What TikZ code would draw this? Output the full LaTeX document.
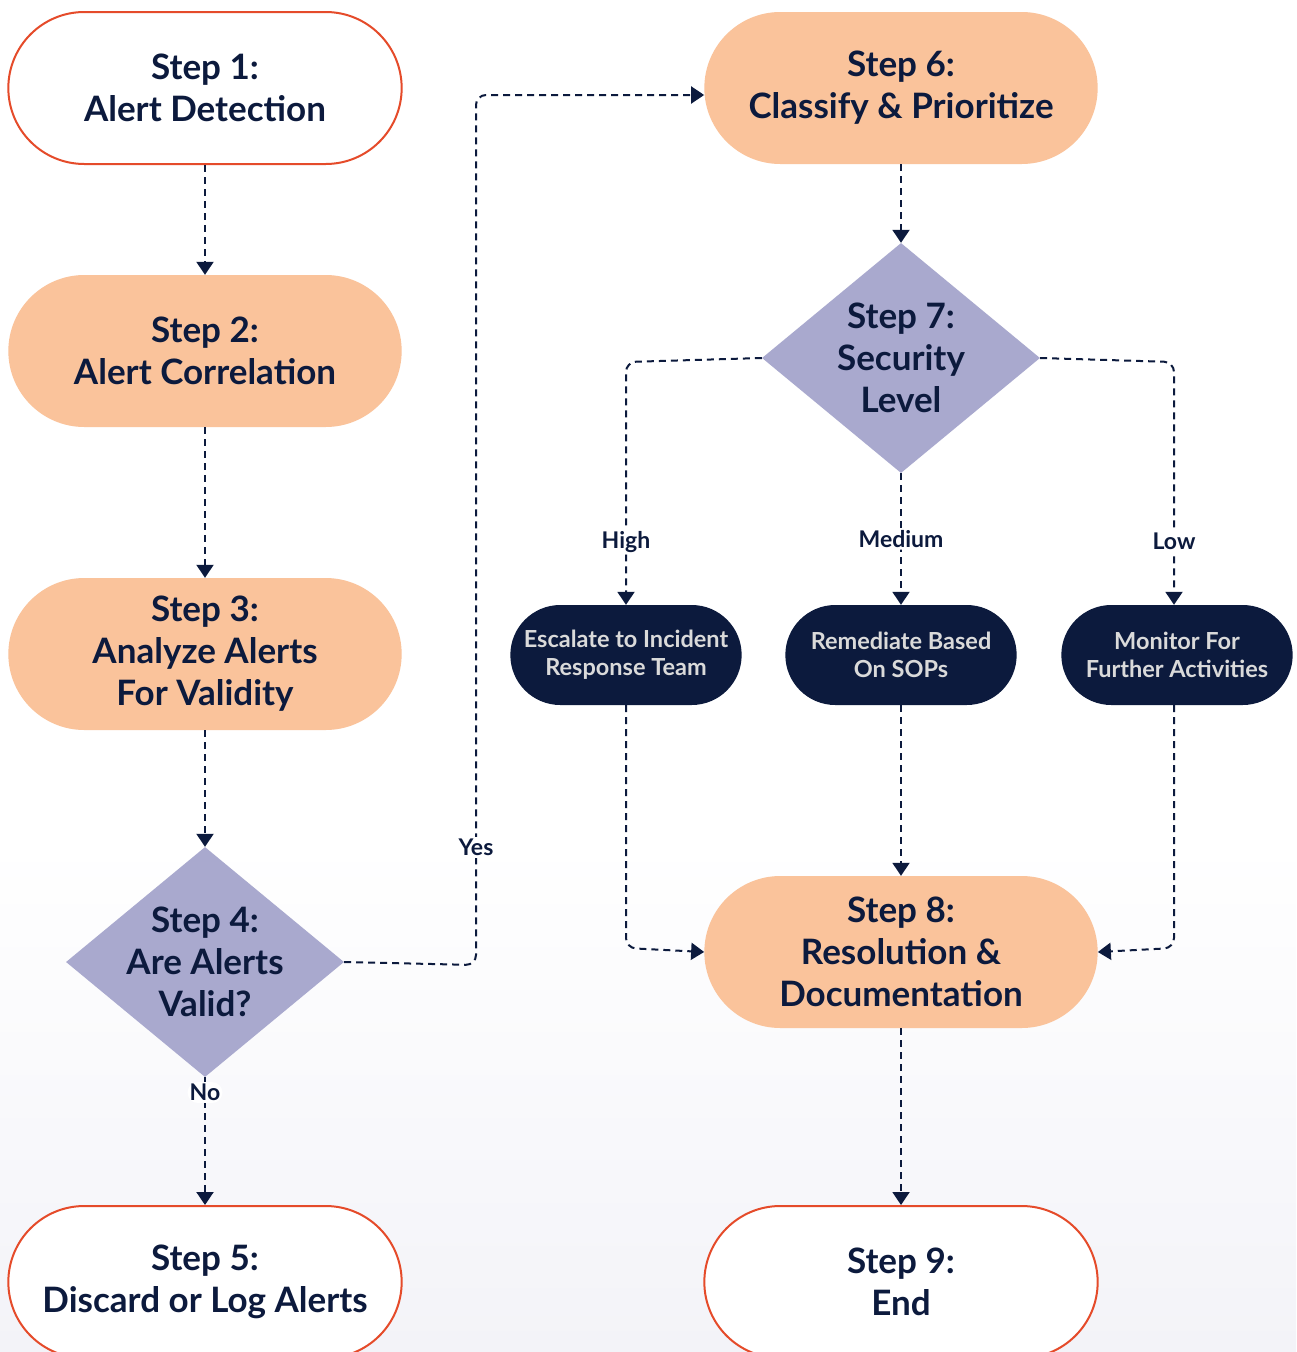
\documentclass[tikz,border=0pt]{standalone}
\usepackage{fontspec}
\setmainfont{Lato}
\usetikzlibrary{arrows.meta,shapes.geometric,shapes.misc,calc}
\definecolor{navy}{HTML}{0C1A3D}
\definecolor{peach}{HTML}{FAC39B}
\definecolor{redline}{HTML}{E54B2A}
\definecolor{lav}{HTML}{A9A9CE}
\definecolor{pilltext}{HTML}{DADADA}
\definecolor{haze}{HTML}{F3F3F8}
\tikzset{
  stadium/.style={rounded rectangle, minimum width=400pt, minimum height=152pt,
    align=center, font=\bfseries\fontsize{35}{42}\selectfont, text=navy},
  termbox/.style={stadium, draw=redline, line width=2pt, fill=white},
  procbox/.style={stadium, fill=peach},
  % the diamond keeps a fixed size; its text is set as a centred label
  decbox/.style={diamond, minimum width=278pt, minimum height=230pt,
    inner sep=0pt, fill=lav},
  dectext/.style={align=center, text=navy,
    font=\bfseries\fontsize{35}{42}\selectfont},
  actbox/.style={rounded rectangle, minimum width=238pt, minimum height=100pt,
    fill=navy, text=pilltext, align=center,
    font=\bfseries\fontsize{23.5}{28}\selectfont},
  flow/.style={draw=navy, line width=2pt, dash pattern=on 7pt off 5pt,
    -{Triangle[length=13pt,width=17pt]}, rounded corners=10pt},
  tag/.style={fill=white, text=navy, font=\bfseries\fontsize{23}{26}\selectfont,
    inner sep=2pt},
}
\begin{document}
\begin{tikzpicture}[x=1pt,y=-1pt]
\useasboundingbox (0,0) rectangle (1296,1352);
\clip (0,0) rectangle (1296,1352);
% soft backdrop towards the bottom
\fill[white] (0,0) rectangle (1296,840);
\shade[top color=white, bottom color=haze] (0,840) rectangle (1296,1352);

% left column
\node[termbox] (s1) at (205,88) {Step 1:\\Alert Detection};
\node[procbox] (s2) at (205,351) {Step 2:\\Alert Correlation};
\node[procbox] (s3) at (205,654) {Step 3:\\Analyze Alerts\\For Validity};
\node[decbox] (s4) at (205,962) {};
\node[dectext] (s4t) at (s4.center) {Step 4:\\Are Alerts\\Valid?};
\node[termbox] (s5) at (205,1282) {Step 5:\\Discard or Log Alerts};

% right column
\node[procbox] (s6) at (901,88) {Step 6:\\Classify \& Prioritize};
\node[decbox] (s7) at (901,358) {};
\node[dectext] (s7t) at (s7.center) {Step 7:\\Security\\Level};
\node[actbox] (a1) at (626,655) {Escalate to Incident\\Response Team};
\node[actbox] (a2) at (901,655) {Remediate Based\\On SOPs};
\node[actbox] (a3) at (1177,655) {Monitor For\\Further Activities};
\node[procbox] (s8) at (901,952) {Step 8:\\Resolution \&\\Documentation};
\node[termbox] (s9) at (901,1282) {Step 9:\\End};

% connectors
\draw[flow] (s1.south) -- (s2.north);
\draw[flow] (s2.south) -- (s3.north);
\draw[flow] (s3.south) -- (s4.north);
\draw[flow] (s4.south) -- node[tag, pos=0.12] {No} (s5.north);
\draw[flow] (s4.east) -- (476,965) -- node[tag, pos=0.135] {Yes} (476,95) -- (s6.west |- 0,95);
\draw[flow] (s6.south) -- (s7.north);
\draw[flow] (s7.west) -- (626,362) -- node[tag, pos=0.74] {High} (a1.north);
\draw[flow] (s7.south) -- node[tag, pos=0.5] {Medium} (a2.north);
\draw[flow] (s7.east) -- (1174,362) -- node[tag, pos=0.74] {Low} (a3.north -| 1174,0);
\draw[flow] (a1.south) -- (626,948) -- (s8.west |- 0,952);
\draw[flow] (a2.south) -- (s8.north);
\draw[flow] (a3.south -| 1174,0) -- (1174,948) -- (s8.east |- 0,952);
\draw[flow] (s8.south) -- (s9.north);
\end{tikzpicture}
\end{document}
